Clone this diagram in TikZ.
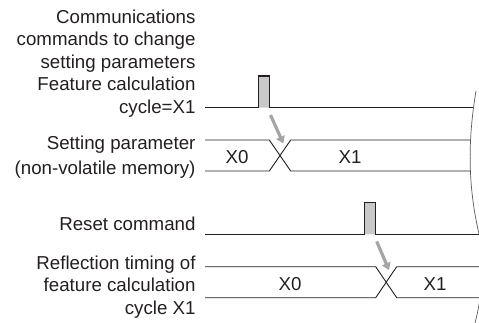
\documentclass[tikz,border=0pt]{standalone}
\usepackage{fontspec}
\setmainfont{Liberation Sans}
\usetikzlibrary{arrows.meta}
\definecolor{ink}{RGB}{35,31,32}
\definecolor{pulsegray}{RGB}{200,200,200}
\definecolor{cuegray}{RGB}{165,165,165}
\definecolor{breakgray}{RGB}{90,90,90}
\begin{document}
\begin{tikzpicture}[x=1pt,y=-1pt,
    lbl/.style={anchor=base east,align=right,inner sep=0pt,text=ink,font=\fontsize{18.7}{22.5}\selectfont},
    val/.style={anchor=base,inner sep=0pt,text=ink,font=\fontsize{18.7}{22.5}\selectfont},
    sig/.style={draw=ink,line width=1.2pt},
    bus/.style={draw=ink,line width=0.9pt},
    pulse/.style={sig,fill=pulsegray},
    cue/.style={draw=cuegray,line width=3.2pt,-{Triangle[length=7pt,width=9pt]}},
    brk/.style={draw=breakgray,line width=0.7pt}]
    \useasboundingbox (0,0) rectangle (479,323);
    % labels (anchored at the baseline of their last line)
    \node[lbl] (cmd) at (195.7,113.3) {Communications\\commands to change\\setting parameters\\Feature calculation\\cycle=X1};
    \node[lbl] (par) at (195.7,175) {Setting parameter\\[2.5pt](non-volatile memory)};
    \node[lbl] (rst) at (195.7,230) {Reset command};
    \node[lbl] (ref) at (195.7,314) {Reflection timing of\\feature calculation\\cycle X1};
    % pulses
    \draw[pulse] (205,107.7) -- (258.8,107.7) -- (258.8,76) -- (269.5,76) -- (269.5,107.7) -- (472.7,107.7);
    \draw[pulse] (205,234.3) -- (364.3,234.3) -- (364.3,202.8) -- (375.5,202.8) -- (375.5,234.3) -- (482,234.3);
    % buses
    \foreach \y/\a/\b/\e in {140/269.3/290.7/470.5,266.7/375.7/396.7/482}{
        \draw[bus] (205,\y) -- (\a,\y) -- (\b,\y+31) -- (\e,\y+31);
        \draw[bus] (205,\y+31) -- (\a,\y+31) -- (\b,\y) -- (\e,\y);}
    \node[val] (v0) at (237,163.5) {X0};
    \node[val] (v1) at (350,163.5) {X1};
    \node[val] (w0) at (290,290.5) {X0};
    \node[val] (w1) at (435,290.5) {X1};
    % cause arrows
    \coordinate (c1) at (270.5,115); \coordinate (t1) at (283.3,143.5);
    \coordinate (c2) at (376.7,241.5); \coordinate (t2) at (389,270);
    \draw[cue] (c1) -- (t1);
    \draw[cue] (c2) -- (t2);
    % break line
    \draw[brk] (476,91) .. controls (466,150) and (470,195) .. (479,234) .. controls (486,265) and (481,300) .. (475,323);
\end{tikzpicture}
\end{document}
